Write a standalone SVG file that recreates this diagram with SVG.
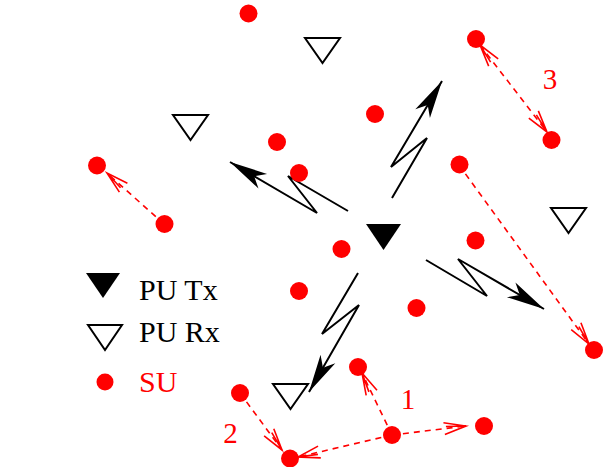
<svg xmlns="http://www.w3.org/2000/svg" width="607" height="467" viewBox="0 0 607 467">
<style>
.su{fill:#ff0000}
.rx{fill:#fff;stroke:#000;stroke-width:2}
.tx{fill:#000}
.dash{fill:none;stroke:#ff0000;stroke-width:1.6;stroke-dasharray:6,5}
.bolt{fill:none;stroke:#000;stroke-width:2}
.lbl{font-family:"Liberation Serif","Times New Roman",serif;font-size:30px}
.num{font-family:"Liberation Serif","Times New Roman",serif;font-size:29px;fill:#ff0000}
</style>
<defs>
<marker id="ra" markerUnits="userSpaceOnUse" markerWidth="40" markerHeight="40" refX="0" refY="0" orient="auto-start-reverse" overflow="visible">
<path d="M-22,-6 L0,0 L-22,6 M-20,-2 L0,0" fill="none" stroke="#ff0000" stroke-width="1.6"/>
</marker>
<marker id="ba" markerUnits="userSpaceOnUse" markerWidth="50" markerHeight="50" refX="0" refY="0" orient="auto" overflow="visible">
<path d="M0,0 L-38,-8.5 L-28,0 L-38,8.5 Z" fill="#000"/>
</marker>
</defs>
<g id="connectors">
<line class="dash" x1="480" y1="45" x2="547" y2="132" marker-start="url(#ra)" marker-end="url(#ra)"/>
<line class="dash" x1="164" y1="224" x2="107" y2="173" marker-end="url(#ra)"/>
<line class="dash" x1="459" y1="165" x2="589" y2="344" marker-end="url(#ra)"/>
<line class="dash" x1="392" y1="435" x2="362" y2="373" marker-end="url(#ra)"/>
<line class="dash" x1="392" y1="435" x2="466" y2="426" marker-end="url(#ra)"/>
<line class="dash" x1="392" y1="435" x2="298" y2="457" marker-end="url(#ra)"/>
<line class="dash" x1="240" y1="393" x2="282" y2="450" marker-end="url(#ra)"/>
<polyline class="bolt" points="392,198 427,138 391,167 442,81" marker-end="url(#ba)"/>
<polyline class="bolt" points="348,211 288,176 317,213 230,162" marker-end="url(#ba)"/>
<polyline class="bolt" points="426,260 487,296 458,259 544,309" marker-end="url(#ba)"/>
<polyline class="bolt" points="358,273 322,334 359,305 309,392" marker-end="url(#ba)"/>
</g>
<g id="putx"><polygon class="tx" points="366,224 401,224 383.5,250"/></g>
<g id="purx1"><polygon class="rx" points="305,38 340,38 322.5,63"/></g>
<g id="purx2"><polygon class="rx" points="173,115 208,115 190.5,140"/></g>
<g id="purx3"><polygon class="rx" points="551,208 586,208 568.5,233"/></g>
<g id="purx4"><polygon class="rx" points="273,384 308,384 290.5,409"/></g>
<g id="su1"><circle class="su" cx="248.5" cy="13.5" r="9"/></g>
<g id="su2"><circle class="su" cx="476" cy="39" r="9"/></g>
<g id="su3"><circle class="su" cx="551.5" cy="140" r="9"/></g>
<g id="su4"><circle class="su" cx="459.5" cy="164.5" r="9"/></g>
<g id="su5"><circle class="su" cx="375" cy="114" r="9"/></g>
<g id="su6"><circle class="su" cx="277" cy="142" r="9"/></g>
<g id="su7"><circle class="su" cx="299" cy="173" r="9"/></g>
<g id="su8"><circle class="su" cx="97" cy="165.5" r="9"/></g>
<g id="su9"><circle class="su" cx="164.5" cy="224" r="9"/></g>
<g id="su10"><circle class="su" cx="341.5" cy="249" r="9"/></g>
<g id="su11"><circle class="su" cx="299" cy="291" r="9"/></g>
<g id="su12"><circle class="su" cx="416.5" cy="308" r="9"/></g>
<g id="su13"><circle class="su" cx="475.5" cy="240.5" r="9"/></g>
<g id="su14"><circle class="su" cx="594" cy="350" r="9"/></g>
<g id="su15"><circle class="su" cx="358" cy="367" r="9"/></g>
<g id="su16"><circle class="su" cx="240" cy="393" r="9"/></g>
<g id="su17"><circle class="su" cx="392" cy="435" r="9"/></g>
<g id="su18"><circle class="su" cx="484" cy="426" r="9"/></g>
<g id="su19"><circle class="su" cx="290" cy="458.5" r="9"/></g>
<g id="labels">
<text class="num" x="550" y="89" text-anchor="middle">3</text>
<text class="num" x="408" y="409" text-anchor="middle">1</text>
<text class="num" x="230.5" y="443" text-anchor="middle">2</text>
</g>
<g id="legend">
<polygon class="tx" points="86,273 120,273 103,298"/>
<text class="lbl" x="139" y="300" fill="#000">PU Tx</text>
<polygon class="rx" points="88,325 122,325 105,350"/>
<text class="lbl" x="139" y="342" fill="#000">PU Rx</text>
<circle class="su" cx="105" cy="382" r="8.5"/>
<text class="lbl" x="139" y="392" fill="#ff0000">SU</text>
</g>
</svg>
